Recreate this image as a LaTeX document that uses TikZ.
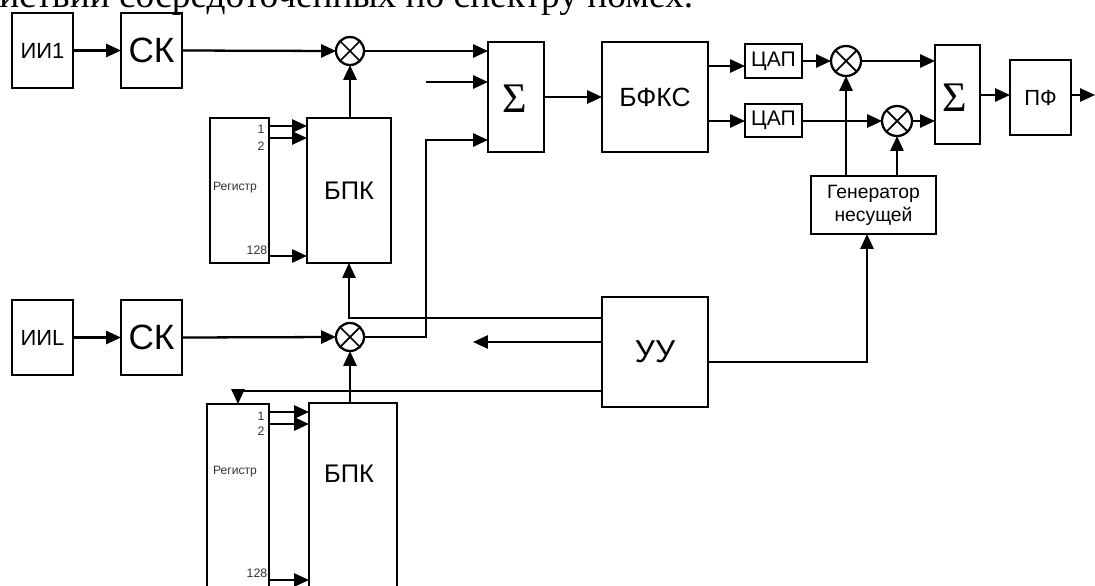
\documentclass[tikz,border=0pt]{standalone}
\usepackage{fontspec}
\setmainfont{Liberation Serif}
\setsansfont{Liberation Sans}
\usetikzlibrary{arrows.meta}
\tikzset{
    block/.style n args={3}{draw,line width=1.3pt,inner sep=0pt,outer sep=0pt,align=center,
        minimum width=#1*0.02cm,minimum height=#2*0.02cm,font=\sffamily\fontsize{#3}{13}\selectfont},
    mulnode/.style={circle,draw,line width=1.3pt,inner sep=0pt,outer sep=0pt,minimum size=28*0.02cm,
        path picture={\draw[line width=1pt] (path picture bounding box.south west) -- (path picture bounding box.north east)
            (path picture bounding box.north west) -- (path picture bounding box.south east);}},
    sumsign/.style={font=\rmfamily\fontsize{24}{24}\selectfont,inner sep=0pt},
    smalltxt/.style={font=\sffamily\fontsize{#1}{#1}\selectfont,inner sep=0pt,text=black!80},
    wire/.style={line width=1.3pt,-{Triangle[length=8.5pt,width=7.5pt]}}
}

\begin{document}
\begin{tikzpicture}[x=0.02cm,y=-0.02cm]
    \useasboundingbox (0,0) rectangle (1095,585);
    \node[anchor=base west,inner sep=0pt,font=\rmfamily\fontsize{21.25}{24}\selectfont] (headline) at (-1,7) {иствий сосредоточенных по спектру помех.};

    % first channel
    \node[block={61}{75}{12.5}] (ii1) at (42.5,50.5) {ИИ1};
    \node[block={61}{75}{20}] (ck1) at (151.5,50.5) {СК};
    \node[mulnode] (mul1) at (350,51) {};
    \node[block={84}{145}{14.5}] (bpk1) at (349,190.5) {БПК};
    \node[block={59}{145}{6}] (reg1) at (239.5,190.5) {};
    \node[smalltxt=6.9] (reg1txt) at (235,188) {Регистр};
    \node[smalltxt=7] (r1n1) at (261,129) {1};
    \node[smalltxt=7] (r1n2) at (261,146) {2};
    \node[smalltxt=7] (r1n3) at (257,250) {128};
    \coordinate (r1a) at (269,126);
    \coordinate (r1b) at (269,138);
    \coordinate (r1c) at (269,256);
    \draw[wire] (ii1.east) -- (ck1.west);
    \draw[wire] (ck1.east) -- (mul1.west);
    \draw[wire] (bpk1.north -| mul1) -- (mul1.south);
    \draw[wire] (r1a) -- (r1a -| bpk1.west);
    \draw[wire] (r1b) -- (r1b -| bpk1.west);
    \draw[wire] (r1c) -- (r1c -| bpk1.west);

    % second channel
    \node[block={61}{75}{12.5}] (iil) at (42.5,337.5) {ИИL};
    \node[block={61}{75}{20}] (ck2) at (151.5,337.5) {СК};
    \node[mulnode] (mul4) at (350,337) {};
    \node[block={88}{200}{14.5}] (bpk2) at (353,503) {};
    \node[font=\sffamily\fontsize{14.5}{16}\selectfont,inner sep=0pt] (bpk2txt) at (349,474) {БПК};
    \node[block={62}{200}{6}] (reg2) at (238,504) {};
    \node[smalltxt=6.9] (reg2txt) at (235,472) {Регистр};
    \node[smalltxt=7] (r2n1) at (261,416) {1};
    \node[smalltxt=7] (r2n2) at (261,431) {2};
    \node[smalltxt=7] (r2n3) at (257,573) {128};
    \coordinate (r2a) at (269,412);
    \coordinate (r2b) at (269,424);
    \coordinate (r2c) at (269,580);
    \draw[wire] (iil.east) -- (ck2.west);
    \draw[wire] (ck2.east) -- (mul4.west);
    \draw[wire] (bpk2.north -| mul4) -- (mul4.south);
    \draw[wire] (r2a) -- (r2a -| bpk2.west);
    \draw[wire] (r2b) -- (r2b -| bpk2.west);
    \draw[wire] (r2c) -- (r2c -| bpk2.west);

    % adder and output part
    \node[block={56}{110}{6}] (sum1) at (516,97) {};
    \node[sumsign] (sum1txt) at (515,99) {Σ};
    \node[block={106}{110}{15}] (bfks) at (655,97) {БФКС};
    \node[block={57}{34}{12}] (dac1) at (773.5,61) {ЦАП};
    \node[block={57}{33}{12}] (dac2) at (773.5,120.5) {ЦАП};
    \node[mulnode,minimum size=30*0.02cm] (mul2) at (846,61) {};
    \node[mulnode,minimum size=30*0.02cm] (mul3) at (897,121) {};
    \node[block={45}{99}{6}] (sum2) at (957.5,94.5) {};
    \node[sumsign] (sum2txt) at (955,98) {Σ};
    \node[block={61}{75}{12.5}] (pf) at (1040.5,97.5) {ПФ};
    \node[block={125}{58}{11}] (gen) at (873.5,205) {Генератор\\несущей};
    \node[block={106}{110}{18}] (uu) at (655,352) {УУ};
    \coordinate (in1) at (426,82);
    \coordinate (in3) at (426,140);
    \coordinate (bf1) at (708,66);
    \coordinate (bf2) at (708,121);
    \coordinate (pfout) at (1095,95);
    \draw[wire] (mul1.east) -- (mul1.east -| sum1.west);
    \draw[wire] (in1) -- (in1 -| sum1.west);
    \draw[wire] (mul4.east) -| (in3) -- (in3 -| sum1.west);
    \draw[wire] (sum1.east |- bfks.west) -- (bfks.west);
    \draw[wire] (bf1) -- (bf1 -| dac1.west);
    \draw[wire] (bf2) -- (bf2 -| dac2.west);
    \draw[wire] (dac1.east) -- (mul2.west);
    \draw[wire] (dac2.east |- mul3.west) -- (mul3.west);
    \draw[wire] (mul2.east) -- (mul2.east -| sum2.west);
    \draw[wire] (mul3.east) -- (mul3.east -| sum2.west);
    \draw[wire] (gen.north -| mul2) -- (mul2.south);
    \draw[wire] (gen.north -| mul3) -- (mul3.south);
    \draw[wire] (sum2.east |- pfout) -- (pfout -| pf.west);
    \draw[wire] (pf.east |- pfout) -- (pfout);

    % control unit wires
    \coordinate (uw1) at (602,318);
    \coordinate (uw2) at (602,342);
    \coordinate (uw3) at (602,391);
    \coordinate (uw4) at (708,362);
    \coordinate (uleft) at (473,342);
    \coordinate (gin) at (867,234);
    \draw[wire] (uw1) -| (bpk1.south);
    \draw[wire] (uw2) -- (uleft);
    \draw[wire] (uw3) -| (reg2.north);
    \draw[wire] (uw4) -| (gin);
\end{tikzpicture}
\end{document}
